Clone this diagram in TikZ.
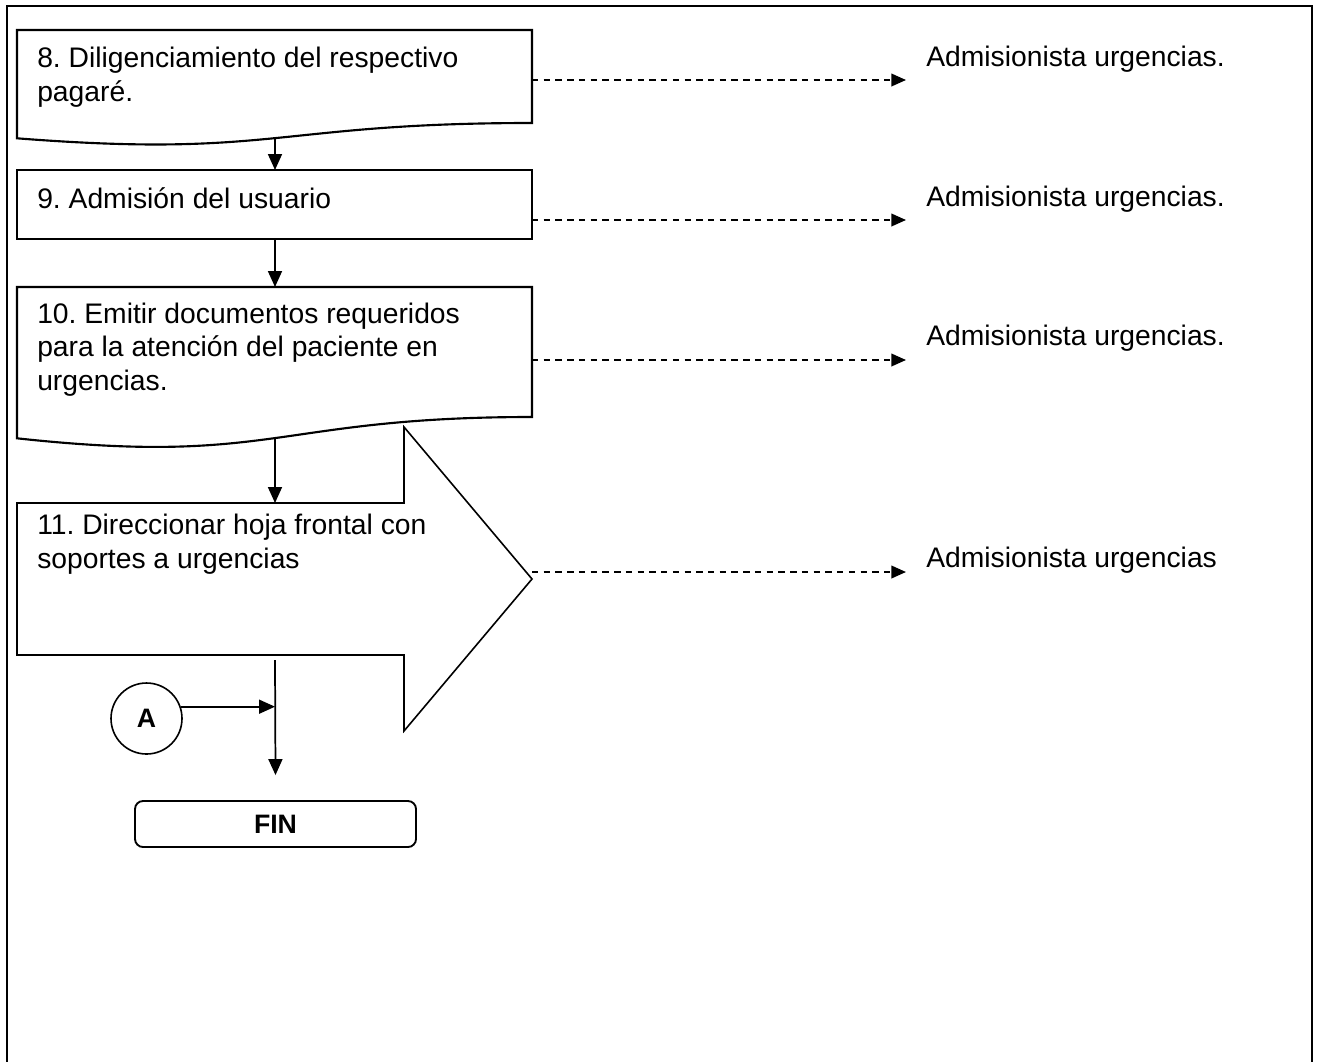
\documentclass[tikz,border=0pt]{standalone}
\usepackage{fontspec}
\setmainfont{Liberation Sans}
\usetikzlibrary{arrows.meta}
\frenchspacing
\begin{document}
\begin{tikzpicture}[x=0.75pt,y=-0.75pt,
  shapeline/.style={line width=1.6pt, line join=miter},
  blockline/.style={line width=1.2pt, line join=miter},
  flow/.style={line width=1.3pt, -{Triangle[length=12pt,width=10.5pt]}},
  link/.style={line width=1.3pt, dash pattern=on 4.8pt off 4pt, -{Triangle[length=11pt,width=9.5pt]}},
  steptext/.style={anchor=base west, inner sep=0pt, align=left, font=\fontsize{21.2}{25}\selectfont},
  who/.style={anchor=base west, inner sep=0pt, font=\fontsize{21.2}{25}\selectfont},
  connector/.style={draw, circle, line width=1.2pt, minimum size=53.25pt, inner sep=0pt, font=\fontsize{20}{24}\selectfont\bfseries},
  terminal/.style={draw, line width=1.4pt, rounded corners=6pt, minimum width=210.75pt, minimum height=34.5pt, inner sep=0pt, font=\fontsize{20}{24}\selectfont\bfseries},
]
\useasboundingbox (0,0) rectangle (1320,1061);
\fill[white] (0,0) rectangle (1320,1061);

% page frame (open at the bottom)
\draw[line width=1.1pt] (7,1075) -- (7,6);
\draw[line width=1.5pt] (6,6) -- (1313,6);
\draw[line width=1.7pt] (1312,5) -- (1312,1075);

% step 8: document shape (anchor = baseline of the last line)
\draw[shapeline] (17,30) -- (532,30) -- (532,123)
  .. controls (274.5,123) and (274.5,158.4) .. (17,138.3) -- cycle;
\node[steptext] (t8) at (37,101) {8. Diligenciamiento del respectivo\\pagar\'e.};
\coordinate (s8) at (275,138.2);
\coordinate (e8) at (532,80);

% step 9: process box
\draw[shapeline] (17,170) rectangle (532,239);
\node[steptext] (t9) at (37,208) {9. Admisi\'on del usuario};
\coordinate (n9) at (275,170);
\coordinate (s9) at (275,239);
\coordinate (e9) at (532,220);

% step 10: document shape
\draw[shapeline] (17,287) -- (532,287) -- (532,417)
  .. controls (274.5,417) and (274.5,466.3) .. (17,438.3) -- cycle;
\node[steptext] (t10) at (37,390) {10. Emitir documentos requeridos\\para la atenci\'on del paciente en\\urgencias.};
\coordinate (n10) at (275,287);
\coordinate (s10) at (275,438.1);
\coordinate (e10) at (532,360);

% step 11: block arrow
\draw[blockline] (17,503) -- (404,503) -- (404,427) -- (532,579)
  -- (404,731) -- (404,655) -- (17,655) -- cycle;
\node[steptext] (t11) at (37,568) {11. Direccionar hoja frontal con\\soportes a urgencias};
\coordinate (n11) at (275,503);
\coordinate (s11) at (275,660);
\coordinate (e11) at (532,572);

% responsible roles
\node[who] (r8) at (926,66) {Admisionista urgencias.};
\node[who] (r9) at (926,206) {Admisionista urgencias.};
\node[who] (r10) at (926,345) {Admisionista urgencias.};
\node[who] (r11) at (926,567) {Admisionista urgencias};

\draw[link] (e8) -- (e8 -| 906,0);
\draw[link] (e9) -- (e9 -| 906,0);
\draw[link] (e10) -- (e10 -| 906,0);
\draw[link] (e11) -- (e11 -| 906,0);

% main flow
\draw[flow] (s8) -- (n9);
\draw[flow] (s9) -- (n10);
\draw[flow] (s10) -- (n11);

% connector A and end
\node[connector] (ca) at (146.5,718.5) {A};
\node[terminal] (fin) at (275.5,824) {FIN};
\coordinate (j) at (275,707);
\draw[flow] (s11) -- ([yshift=18.75pt]fin.north);
\draw[flow] (ca.19) -- (ca.19 -| j);
\end{tikzpicture}
\end{document}
